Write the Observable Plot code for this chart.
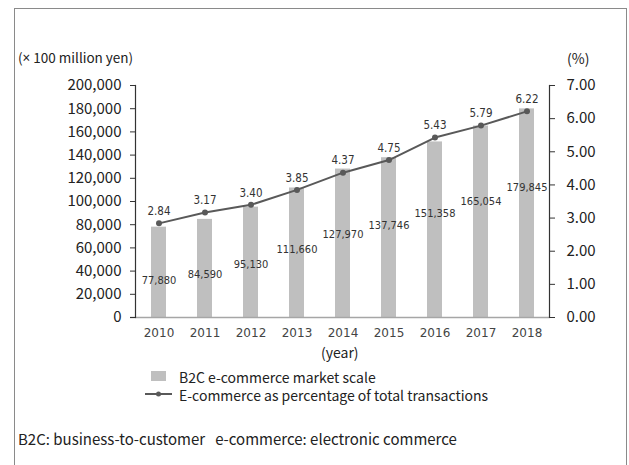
<!DOCTYPE html>
<html>
<head>
<meta charset="utf-8">
<script src="https://cdn.jsdelivr.net/npm/d3@7"></script>
<script src="https://cdn.jsdelivr.net/npm/@observablehq/plot@0.6"></script>
<style>
  html, body { margin: 0; padding: 0; background: #fff; }
  #wrap { position: relative; width: 629px; height: 465px; overflow: hidden; font-family: "Noto Sans CJK JP", "Noto Sans", sans-serif; color: #222; }
  #border { position: absolute; left: 14px; top: 8px; width: 613px; height: 480px; border: 1.5px solid #8a8a8a; box-sizing: border-box; }
  #chart { position: absolute; left: 0; top: 0; }
  .lbl { position: absolute; white-space: nowrap; font-size: 14px; line-height: 1; }
</style>
</head>
<body>
<div id="wrap">
  <div id="border"></div>
  <div id="chart"></div>
  <div class="lbl" id="ylab" style="left:18px; top:51px; font-size:13.5px;">(<span style="font-family:'Noto Sans',sans-serif;">×</span> 100 million yen)</div>
  <div class="lbl" id="y2lab" style="left:567px; top:51px;">(%)</div>
  <div class="lbl" id="xlab" style="left:321px; top:345px;">(year)</div>
  <div id="legend"></div>
  <div class="lbl" id="caption" style="left:18px; top:431px; font-size:15px;">B2C: business-to-customer&nbsp;&nbsp;&nbsp;e-commerce: electronic commerce</div>
</div>
<script>
const years = ["2010","2011","2012","2013","2014","2015","2016","2017","2018"];
const marketScale = [77880, 84590, 95130, 111660, 127970, 137746, 151358, 165054, 179845];
const ecPercent = [2.84, 3.17, 3.40, 3.85, 4.37, 4.75, 5.43, 5.79, 6.22];
const leftTicks = [0, 20000, 40000, 60000, 80000, 100000, 120000, 140000, 160000, 180000, 200000];
const rightTicks = [0, 1, 2, 3, 4, 5, 6, 7];
const legendLabels = ["B2C e-commerce market scale", "E-commerce as percentage of total transactions"];

const leftMax = 200000, rightMax = 7;
const k = leftMax / rightMax;
const rows = years.map((y, i) => ({year: y, value: marketScale[i], pct: ecPercent[i]}));

const barColor = "#bfbfbf";
const lineColor = "#595959";
const tickFont = "Noto Sans CJK JP, Noto Sans, sans-serif";
const dataFont = "DejaVu Sans Condensed, DejaVu Sans, sans-serif";
const yearFont = "DejaVu Sans, sans-serif";

const chart = Plot.plot({
  width: 629,
  height: 465,
  marginLeft: 135,
  marginRight: 80,
  marginTop: 85,
  marginBottom: 148,
  style: {background: "transparent", color: "#222", overflow: "visible"},
  x: {type: "band", domain: years, paddingInner: 0.68, paddingOuter: 0.34},
  y: {domain: [0, leftMax]},
  marks: [
    Plot.barY(rows, {x: "year", y: "value", fill: barColor}),
    Plot.ruleY([0], {stroke: "#a6a6a6", strokeWidth: 1.5, insetLeft: -5}),
    Plot.frame({anchor: "left", stroke: "#333", strokeWidth: 1.2}),
    Plot.frame({anchor: "right", stroke: "#333", strokeWidth: 1.2}),
    Plot.axisY(leftTicks, {
      anchor: "left", tickSize: 5, tickPadding: 9, tickFormat: d3.format(","),
      fontSize: 15, fontFamily: tickFont, stroke: "#333", fill: "#222", label: null
    }),
    Plot.axisY(rightTicks.map(t => t * k), {
      anchor: "right", tickSize: 5, tickPadding: 12, tickFormat: d => (d / k).toFixed(2),
      fontSize: 15, fontFamily: tickFont, stroke: "#333", fill: "#222", label: null
    }),
    Plot.axisX({
      tickSize: 0, tickPadding: 11, fontSize: 12, fontFamily: yearFont, fill: "#444", label: null
    }),
    Plot.line(rows, {x: "year", y: d => d.pct * k, stroke: lineColor, strokeWidth: 2}),
    Plot.dot(rows, {x: "year", y: d => d.pct * k, r: 3, fill: lineColor, stroke: "none"}),
    Plot.text(rows, {
      x: "year", y: d => d.pct * k, text: d => d.pct.toFixed(2), dy: -12,
      fontSize: 11.5, fontFamily: dataFont, fill: "#333"
    }),
    Plot.text(rows, {
      x: "year", y: d => d.value * 0.786 - 29300, text: d => d3.format(",")(d.value),
      fontSize: 11, fontFamily: dataFont, fill: "#333"
    })
  ]
});
document.getElementById("chart").appendChild(chart);

// legend
const legend = document.getElementById("legend");
legend.innerHTML = `
  <div style="position:absolute; left:151px; top:371px; width:15px; height:10px; background:${barColor};"></div>
  <div class="lbl" style="left:179px; top:370px;">${legendLabels[0]}</div>
  <svg style="position:absolute; left:143px; top:388px;" width="32" height="12">
    <line x1="2" y1="6" x2="29" y2="6" stroke="${lineColor}" stroke-width="2"></line>
    <circle cx="15.5" cy="6" r="2.5" fill="${lineColor}"></circle>
  </svg>
  <div class="lbl" style="left:179px; top:388px;">${legendLabels[1]}</div>
`;
</script>
</body>
</html>
